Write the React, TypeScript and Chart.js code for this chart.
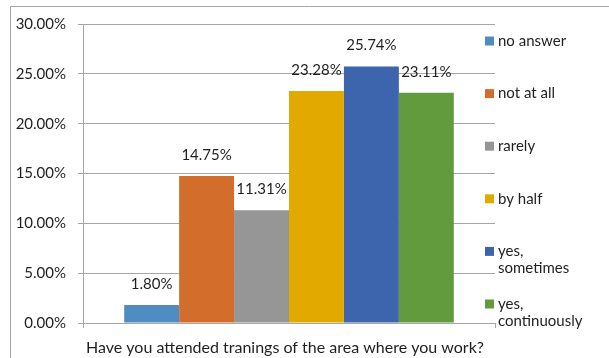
import { useEffect, useRef } from 'react';
import { Chart, registerables } from 'chart.js';

Chart.register(...registerables);

const categories = [''];
const seriesNames = ['no answer', 'not at all', 'rarely', 'by half', 'yes, sometimes', 'yes, continuously'];
const legendLines = [['no answer'], ['not at all'], ['rarely'], ['by half'], ['yes,', 'sometimes'], ['yes,', 'continuously']];
const seriesValues = [1.8, 14.75, 11.31, 23.28, 25.74, 23.11];
const seriesColors = ['#4E8CC2', '#D36D2B', '#969696', '#E2AA00', '#3D65AE', '#629B3E'];
const yMin = 0;
const yMax = 30;
const yStep = 5;
const xTitle = 'Have you attended tranings of the area where you work?';

const FONT_FAMILY = 'Lato';
const FONT_SIZE = 15;
const FONT = `${FONT_SIZE}px ${FONT_FAMILY}`;
const TITLE_FONT = `16px ${FONT_FAMILY}`;
const TEXT = '#1f1f1f';
const GRID = '#a6a6a6';

const overlay = {
  id: 'overlay',
  afterDatasetsDraw(chart: any) {
    const ctx = chart.ctx;
    ctx.save();
    ctx.font = FONT;
    ctx.fillStyle = TEXT;
    ctx.textAlign = 'center';
    ctx.textBaseline = 'middle';
    chart.data.datasets.forEach((ds: any, i: number) => {
      const meta = chart.getDatasetMeta(i);
      meta.data.forEach((el: any, j: number) => {
        ctx.fillText(Number(ds.data[j]).toFixed(2) + '%', el.x, el.y - 21);
      });
    });
    ctx.restore();
  },
  afterDraw(chart: any) {
    const ctx = chart.ctx;
    const area = chart.chartArea;
    ctx.save();
    // outer frame (top and left visible)
    ctx.strokeStyle = GRID;
    ctx.lineWidth = 1;
    ctx.beginPath();
    ctx.moveTo(10.5, chart.height);
    ctx.lineTo(10.5, 6.5);
    ctx.lineTo(chart.width, 6.5);
    ctx.stroke();
    // axis title
    ctx.font = TITLE_FONT;
    ctx.fillStyle = TEXT;
    ctx.textAlign = 'left';
    ctx.textBaseline = 'middle';
    ctx.fillText(xTitle, area.left + 3, area.bottom + 25);
    // legend
    ctx.font = FONT;
    const boxX = area.right - 10;
    const textX = area.right + 3;
    const firstY = area.top + 17;
    const step = 52.6;
    const lineH = 17;
    chart.data.datasets.forEach((ds: any, i: number) => {
      const cy = firstY + i * step;
      ctx.fillStyle = ds.backgroundColor;
      ctx.fillRect(boxX, cy - 4.5, 9, 9);
      ctx.fillStyle = TEXT;
      legendLines[i].forEach((line, k) => {
        ctx.fillText(line, textX, cy + k * lineH);
      });
    });
    ctx.restore();
  },
};

export default function App() {
  const ref = useRef<HTMLCanvasElement>(null);
  useEffect(() => {
    if (!ref.current) return;
    const chart = new Chart(ref.current, {
      type: 'bar',
      data: {
        labels: categories,
        datasets: seriesNames.map((name, i) => ({
          label: name,
          data: [seriesValues[i]],
          backgroundColor: seriesColors[i],
          borderWidth: 0,
          categoryPercentage: 0.8,
          barPercentage: 1,
        })),
      },
      options: {
        responsive: false,
        animation: false,
        layout: { padding: { top: 24, right: 114, bottom: 0, left: 0 } },
        plugins: {
          legend: { display: false },
          tooltip: { enabled: false },
          title: { display: false },
        },
        scales: {
          x: {
            grid: { drawOnChartArea: false, offset: true, tickLength: 5, color: GRID },
            border: { color: GRID },
            ticks: { display: false },
            afterFit: (s: any) => {
              s.height = 35;
            },
          },
          y: {
            min: yMin,
            max: yMax,
            ticks: {
              stepSize: yStep,
              padding: 12,
              color: TEXT,
              font: { family: FONT_FAMILY, size: FONT_SIZE },
              callback: (v: any) => Number(v).toFixed(2) + '%',
            },
            grid: { color: GRID, tickLength: 5 },
            border: { color: GRID },
            afterFit: (s: any) => {
              s.width = 83;
            },
          },
        },
      },
      plugins: [overlay],
    });
    return () => chart.destroy();
  }, []);
  return (
    <div style={{ position: 'absolute', left: 0, top: 0, width: 609, height: 358, background: '#fff' }}>
      <canvas ref={ref} width={609} height={358} style={{ display: 'block' }} />
    </div>
  );
}
